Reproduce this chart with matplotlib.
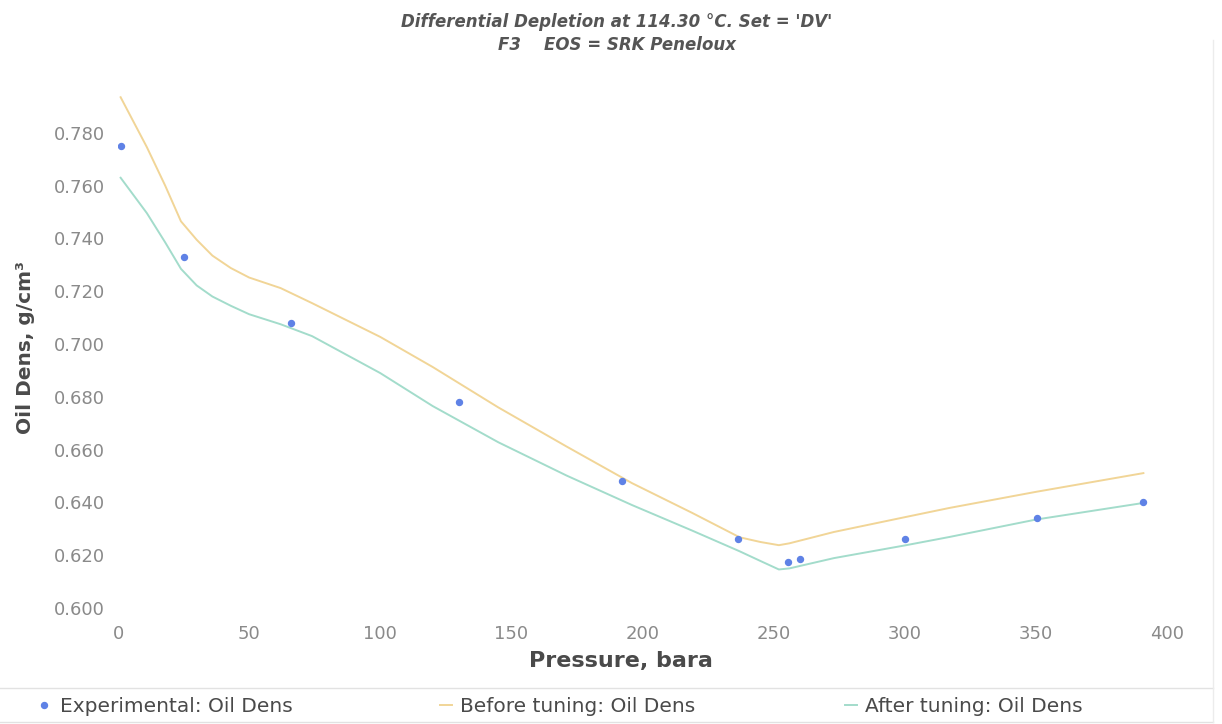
import matplotlib
matplotlib.use("Agg")
import matplotlib.pyplot as plt
from matplotlib.lines import Line2D

# Experimental oil density, differential depletion
exp_pressure = [1.0, 25.0, 66.0, 130.0, 192.0, 236.5, 255.5, 260.0, 300.0, 350.5, 391.0]
exp_density = [0.775, 0.733, 0.708, 0.678, 0.648, 0.626, 0.6175, 0.6185, 0.626, 0.634, 0.640]

# EOS simulated oil density (SRK Peneloux)
sim_pressure = [1, 11, 18, 24, 30, 36, 43, 50, 62, 74, 87, 100, 120, 145, 171, 196,
                219, 237, 245, 252, 256, 273, 300, 317, 350, 391]
before_density = [0.7935, 0.7746, 0.760, 0.7465, 0.7395, 0.7335, 0.7288, 0.7252, 0.7212,
                  0.7155, 0.7091, 0.7027, 0.6913, 0.6760, 0.6612, 0.6473, 0.6360, 0.6268,
                  0.6250, 0.6238, 0.6245, 0.6288, 0.6344, 0.6379, 0.6440, 0.6511]
after_density = [0.7630, 0.7496, 0.7385, 0.7285, 0.7222, 0.7180, 0.7145, 0.7113, 0.7075,
                 0.7030, 0.6960, 0.6890, 0.6765, 0.6628, 0.6502, 0.6390, 0.6293, 0.6215,
                 0.6178, 0.6146, 0.6150, 0.6189, 0.6237, 0.6269, 0.6335, 0.6398]

x_ticks = [0, 50, 100, 150, 200, 250, 300, 350, 400]
y_ticks = [0.600, 0.620, 0.640, 0.660, 0.680, 0.700, 0.720, 0.740, 0.760, 0.780]

title_lines = ["Differential Depletion at 114.30 \u00b0C. Set = 'DV'", "F3    EOS = SRK Peneloux"]
x_label = "Pressure, bara"
y_label = "Oil Dens, g/cm\u00b3"
legend_labels = ["Experimental: Oil Dens", "Before tuning: Oil Dens", "After tuning: Oil Dens"]

FONT = ["DejaVu Sans"]
plt.rcParams["font.family"] = FONT

W, H = 1222, 724
fig = plt.figure(figsize=(W / 100, H / 100), dpi=100)
fig.patch.set_facecolor("white")

left, right, bottom, top = 118, 1167, 608, 88
ax = fig.add_axes([left / W, 1 - bottom / H, (right - left) / W, (bottom - top) / H])
ax.set_facecolor("white")

c_exp = "#5f82e6"
c_before = "#f1d597"
c_after = "#a3dccb"

l_before, = ax.plot(sim_pressure, before_density, color=c_before, lw=1.4, zorder=2,
                    solid_joinstyle="round")
l_after, = ax.plot(sim_pressure, after_density, color=c_after, lw=1.4, zorder=2,
                   solid_joinstyle="round")
p_exp, = ax.plot(exp_pressure, exp_density, ls="none", marker="o", ms=4.3,
                 color=c_exp, mec=c_exp, zorder=3)

ax.set_xlim(0, 400)
ax.set_ylim(0.600, 0.797)
ax.set_xticks(x_ticks)
ax.set_yticks(y_ticks)
ax.set_yticklabels([f"{v:.3f}" for v in y_ticks])
ax.tick_params(axis="both", length=0, labelsize=13, labelcolor="#8a8a8a")
ax.tick_params(axis="x", pad=12)
ax.tick_params(axis="y", pad=9.5)
for s in ax.spines.values():
    s.set_visible(False)

ax.set_xlabel(x_label, fontsize=16, fontweight="bold", color="#4a4a4a")
ax.xaxis.set_label_coords((621 - left) / (right - left), -(651 - bottom) / (bottom - top))
ax.set_ylabel(y_label, fontsize=14.5, fontweight="bold", color="#4a4a4a")
ax.yaxis.set_label_coords(-(118 - 35) / (right - left), 0.5)

fig.text(617 / W, 1 - 22 / H, title_lines[0], ha="center", va="center", fontsize=12,
         fontweight="bold", fontstyle="italic", color="#555555")
fig.text(617 / W, 1 - 45 / H, title_lines[1], ha="center", va="center", fontsize=12,
         fontweight="bold", fontstyle="italic", color="#555555")

# Legend strip along the bottom
leg_y = 1 - 707 / H
for handle, label, x0, hl in zip([p_exp, l_before, l_after], legend_labels,
                                 [36, 440, 845], [0.8, 0.6, 0.6]):
    fig.legend(handles=[handle], labels=[label], loc="center left",
               bbox_to_anchor=(x0 / W, leg_y), frameon=False, fontsize=14.5,
               handlelength=hl, handletextpad=0.4, labelcolor="#4a4a4a",
               borderaxespad=0, borderpad=0)

# Frame lines around the legend strip
fig.add_artist(Line2D([0, 1213 / W], [1 - 688 / H] * 2, color="#e2e2e2", lw=1))
fig.add_artist(Line2D([0, 1213 / W], [1 - 722 / H] * 2, color="#e2e2e2", lw=1))
fig.add_artist(Line2D([1213 / W] * 2, [1 - 40 / H, 1 - 722 / H], color="#ececec", lw=1))

fig.savefig("out.png", dpi=100, facecolor="white")
